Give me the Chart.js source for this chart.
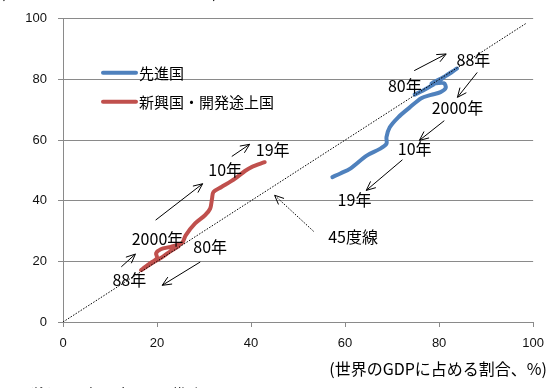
<!DOCTYPE html>
<html>
<head>
<meta charset="utf-8">
<script src="https://cdn.jsdelivr.net/npm/chart.js@4.4.0/dist/chart.umd.min.js"></script>
<style>
  html, body { margin: 0; padding: 0; background: #fff; }
  #wrap { width: 553px; height: 388px; position: relative; }
</style>
</head>
<body>
<div id="wrap"><canvas id="c" width="553" height="388"></canvas></div>
<script>
// Axis ticks (share of world GDP, %)
const xTicks = [0, 20, 40, 60, 80, 100];
const yTicks = [0, 20, 40, 60, 80, 100];

// Series names
const seriesNames = ['先進国', '新興国・開発途上国'];

// Advanced economies, 1980 → 2019
const advX = [74.8, 76.5, 78.0, 79.3, 80.6, 82.0, 83.2, 83.8, 82.6, 80.8, 79.0, 78.4, 81.0, 81.4, 80.3, 78.3, 76.2, 73.7, 71.3, 69.5, 68.8, 68.8, 67.4, 64.6, 61.1, 59.0, 57.3];
const advY = [75.0, 76.3, 77.6, 78.8, 80.2, 81.8, 83.0, 83.6, 82.3, 80.6, 79.2, 78.6, 78.8, 77.2, 75.8, 74.9, 73.8, 70.7, 67.5, 64.2, 61.0, 58.8, 57.1, 54.9, 50.6, 49.0, 47.8];

// Emerging and developing economies, 1980 → 2019
const emgX = [24.6, 22.9, 21.1, 18.9, 16.6, 18.3, 20.0, 19.8, 20.8, 22.9, 25.3, 26.1, 28.1, 30.2, 31.3, 31.7, 32.0, 33.7, 36.6, 38.7, 40.1, 42.9];
const emgY = [25.0, 23.4, 21.4, 19.4, 17.1, 19.1, 21.1, 22.7, 24.0, 24.8, 26.0, 28.6, 32.5, 35.2, 37.4, 40.7, 42.9, 44.5, 47.3, 49.8, 51.1, 52.7];

// 45-degree reference line
const diagX = [0, 98.5];
const diagY = [0, 98.5];

// Year labels (data coordinates)
const yearLabels = [
  { t: '88年',   x: 87.3, y: 86.4 },
  { t: '80年',   x: 72.7, y: 78.0 },
  { t: '2000年', x: 83.9, y: 70.6 },
  { t: '10年',   x: 74.8, y: 57.1 },
  { t: '19年',   x: 62.0, y: 40.1 },
  { t: '45度線', x: 61.7, y: 27.9 },
  { t: '19年',   x: 44.6, y: 56.6 },
  { t: '10年',   x: 34.5, y: 50.2 },
  { t: '2000年', x: 20.1, y: 27.5 },
  { t: '88年',   x: 14.1, y: 13.8 },
  { t: '80年',   x: 31.3, y: 24.8 }
];

// Direction arrows (from → to, data coordinates)
const arrows = [
  { x1: 74.7, y1: 82.9, x2: 81.5, y2: 88.4 },
  { x1: 88.1, y1: 82.3, x2: 83.9, y2: 74.1 },
  { x1: 81.1, y1: 66.4, x2: 75.8, y2: 59.9 },
  { x1: 72.2, y1: 53.5, x2: 64.5, y2: 43.4 },
  { x1: 53.3, y1: 29.9, x2: 45.0, y2: 41.8, dotted: true },
  { x1: 35.9, y1: 54.6, x2: 39.7, y2: 58.6 },
  { x1: 19.7, y1: 33.6, x2: 29.7, y2: 45.6 },
  { x1: 12.4, y1: 18.2, x2: 15.4, y2: 22.4 },
  { x1: 29.2, y1: 19.8, x2: 21.1, y2: 12.1 }
];

const toPoints = (xs, ys) => xs.map((x, i) => ({ x: x, y: ys[i] }));

const BLUE = '#4F81BD';
const RED = '#C0504D';
const JP = '"Noto Sans CJK JP", "Noto Sans", sans-serif';

function drawArrow(ctx, x1, y1, x2, y2, dotted) {
  ctx.save();
  ctx.strokeStyle = '#000';
  ctx.lineWidth = 1;
  if (dotted) ctx.setLineDash([1.5, 1.5]);
  ctx.beginPath();
  ctx.moveTo(x1, y1);
  ctx.lineTo(x2, y2);
  ctx.stroke();
  ctx.setLineDash([]);
  const a = Math.atan2(y2 - y1, x2 - x1);
  const L = 10, w = 0.42;
  ctx.beginPath();
  ctx.moveTo(x2 - L * Math.cos(a - w), y2 - L * Math.sin(a - w));
  ctx.lineTo(x2, y2);
  ctx.lineTo(x2 - L * Math.cos(a + w), y2 - L * Math.sin(a + w));
  ctx.stroke();
  ctx.restore();
}

const decorations = {
  id: 'decorations',
  afterDatasetsDraw(chart) {
    const ctx = chart.ctx;
    const xs = chart.scales.x, ys = chart.scales.y;
    const area = chart.chartArea;

    arrows.forEach(a => drawArrow(ctx,
      xs.getPixelForValue(a.x1), ys.getPixelForValue(a.y1),
      xs.getPixelForValue(a.x2), ys.getPixelForValue(a.y2), a.dotted));

    ctx.save();
    ctx.fillStyle = '#000';
    ctx.font = '16px ' + JP;
    ctx.textAlign = 'center';
    ctx.textBaseline = 'middle';
    yearLabels.forEach(l => {
      ctx.fillText(l.t, xs.getPixelForValue(l.x), ys.getPixelForValue(l.y));
    });
    ctx.restore();

    // legend inside the plot
    ctx.save();
    ctx.lineCap = 'round';
    ctx.lineWidth = 4;
    const lx0 = area.left + 40, lx1 = area.left + 73;
    const rows = [{ c: BLUE, y: area.top + 54 }, { c: RED, y: area.top + 83 }];
    rows.forEach((r, i) => {
      ctx.strokeStyle = r.c;
      ctx.beginPath();
      ctx.moveTo(lx0, r.y);
      ctx.lineTo(lx1, r.y);
      ctx.stroke();
      ctx.fillStyle = '#000';
      ctx.font = '15px ' + JP;
      ctx.textAlign = 'left';
      ctx.textBaseline = 'middle';
      ctx.fillText(seriesNames[i], lx1 + 3, r.y);
    });
    ctx.restore();

    // axis captions and note
    ctx.save();
    ctx.fillStyle = '#000';
    ctx.font = '16px ' + JP;
    ctx.textAlign = 'right';
    ctx.textBaseline = 'middle';
    ctx.fillText('(世界のGDPに占める割合、%)', 547, 369);
    ctx.textAlign = 'left';
    ctx.textBaseline = 'alphabetic';
    ctx.fillText('(世界の貿易に占める割合、%)', 0, -2.5);
    ctx.font = '14px ' + JP;
    ctx.fillText('(注) 2020年以降は IMF 推計', 29, 399);
    ctx.restore();
  }
};

new Chart(document.getElementById('c'), {
  type: 'line',
  data: {
    datasets: [
      {
        label: '45度線',
        data: toPoints(diagX, diagY),
        borderColor: '#000',
        borderWidth: 1,
        borderDash: [1.5, 1.5],
        pointRadius: 0,
        tension: 0
      },
      {
        label: seriesNames[0],
        data: toPoints(advX, advY),
        borderColor: BLUE,
        borderWidth: 4,
        borderCapStyle: 'round',
        borderJoinStyle: 'round',
        pointRadius: 0,
        tension: 0.3
      },
      {
        label: seriesNames[1],
        data: toPoints(emgX, emgY),
        borderColor: RED,
        borderWidth: 4,
        borderCapStyle: 'round',
        borderJoinStyle: 'round',
        pointRadius: 0,
        tension: 0.3
      }
    ]
  },
  options: {
    responsive: false,
    animation: false,
    devicePixelRatio: 1,
    layout: { padding: { top: 18, right: 15, left: 0, bottom: 0 } },
    plugins: { legend: { display: false }, tooltip: { enabled: false } },
    scales: {
      x: {
        type: 'linear',
        min: 0, max: 100,
        afterFit: s => { s.height = 66; },
        afterBuildTicks: s => { s.ticks = xTicks.map(v => ({ value: v })); },
        grid: { drawOnChartArea: false, drawTicks: true, tickLength: 5, color: '#8a8a8a' },
        border: { color: '#8a8a8a', width: 1 },
        ticks: { padding: 9, color: '#111', font: { family: '"Liberation Sans", Arial, sans-serif', size: 13 }, maxRotation: 0 }
      },
      y: {
        type: 'linear',
        min: 0, max: 100,
        afterFit: s => { s.width = 63; },
        afterBuildTicks: s => { s.ticks = yTicks.map(v => ({ value: v })); },
        grid: { drawOnChartArea: true, drawTicks: true, tickLength: 5, color: '#8a8a8a' },
        border: { color: '#8a8a8a', width: 1 },
        ticks: { padding: 11, color: '#111', font: { family: '"Liberation Sans", Arial, sans-serif', size: 13 } }
      }
    }
  },
  plugins: [decorations]
});
</script>
</body>
</html>
